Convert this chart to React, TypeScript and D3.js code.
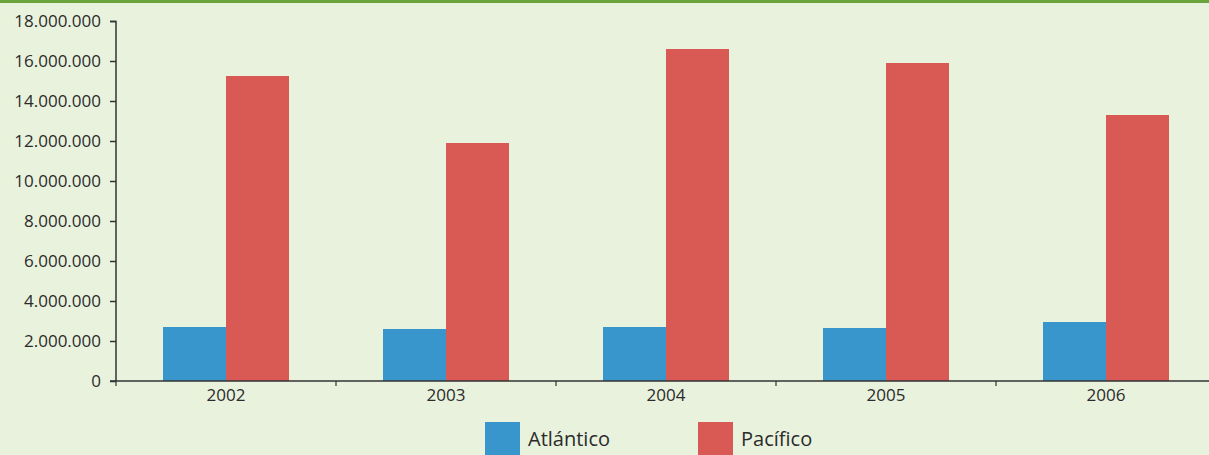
import React, { useEffect, useRef } from "react";
import * as d3 from "d3";

const years = ["2002", "2003", "2004", "2005", "2006"];
const atlantico = [2700000, 2600000, 2700000, 2650000, 2950000];
const pacifico = [15250000, 11900000, 16600000, 15900000, 13300000];
const seriesNames = ["Atlántico", "Pacífico"];
const seriesColors = ["#3996cd", "#d95a55"];
const yTicks = [0, 2000000, 4000000, 6000000, 8000000, 10000000, 12000000, 14000000, 16000000, 18000000];

const W = 1209;
const H = 455;

export default function App() {
  const ref = useRef<SVGSVGElement>(null);
  useEffect(() => {
    const svg = d3.select(ref.current);
    svg.selectAll("*").remove();
    const font = "'Open Sans', sans-serif";
    svg.append("rect").attr("width", W).attr("height", H).attr("fill", "#e9f2dd");
    svg.append("rect").attr("width", W).attr("height", 3).attr("fill", "#6ba43a");

    const x0 = 116;
    const y = d3.scaleLinear().domain([0, 18000000]).range([381, 21]);
    const x = d3.scaleBand().domain(years).range([x0, x0 + 220 * 5]).paddingInner(0).paddingOuter(0);
    const xs = d3.scaleBand().domain(seriesNames).range([0, 126]);
    const pad = (x.bandwidth() - 126) / 2;

    const data = years.map((yr, i) => ({ yr, vals: [atlantico[i], pacifico[i]] }));
    const g = svg.append("g");
    data.forEach((d) => {
      d.vals.forEach((v, j) => {
        g.append("rect")
          .attr("x", (x(d.yr) as number) + pad + (xs(seriesNames[j]) as number))
          .attr("y", y(v))
          .attr("width", xs.bandwidth())
          .attr("height", y(0) - y(v))
          .attr("fill", seriesColors[j]);
      });
    });

    // y axis
    const ya = svg.append("g").attr("transform", `translate(${x0},0)`)
      .call(d3.axisLeft(y).tickValues(yTicks).tickSize(6).tickPadding(9)
        .tickFormat((v) => d3.format(",")(v as number).replace(/,/g, ".")));
    ya.select(".domain").attr("stroke", "#333").attr("stroke-width", 1.5).attr("d", `M-6,21.5H0V381`);
    ya.selectAll(".tick line").attr("stroke", "#333").attr("stroke-width", 1.5);
    ya.selectAll("text").attr("font-family", font).attr("font-size", 17).attr("fill", "#2b2b2b");

    // x axis
    const xa = svg.append("g").attr("transform", `translate(0,381)`);
    xa.append("line").attr("x1", x0 - 6).attr("x2", W).attr("y1", 0).attr("y2", 0)
      .attr("stroke", "#333").attr("stroke-width", 1.5);
    years.forEach((yr, i) => {
      const bx = (x(yr) as number);
      xa.append("line").attr("x1", bx).attr("x2", bx).attr("y1", 0).attr("y2", 5)
        .attr("stroke", "#333").attr("stroke-width", 1.2);
      xa.append("text").attr("x", bx + x.bandwidth() / 2).attr("y", 20)
        .attr("text-anchor", "middle").attr("font-family", font).attr("font-size", 17)
        .attr("fill", "#2b2b2b").text(yr);
    });

    // legend
    const legX = [485, 698];
    seriesNames.forEach((n, i) => {
      svg.append("rect").attr("x", legX[i]).attr("y", 422).attr("width", 35).attr("height", 40)
        .attr("fill", seriesColors[i]);
      svg.append("text").attr("x", legX[i] + 43).attr("y", 446)
        .attr("font-family", font).attr("font-size", 20).attr("fill", "#2b2b2b").text(n);
    });
  }, []);
  return (
    <svg ref={ref} width={W} height={H} style={{ position: "absolute", left: 0, top: 0, display: "block" }} />
  );
}
